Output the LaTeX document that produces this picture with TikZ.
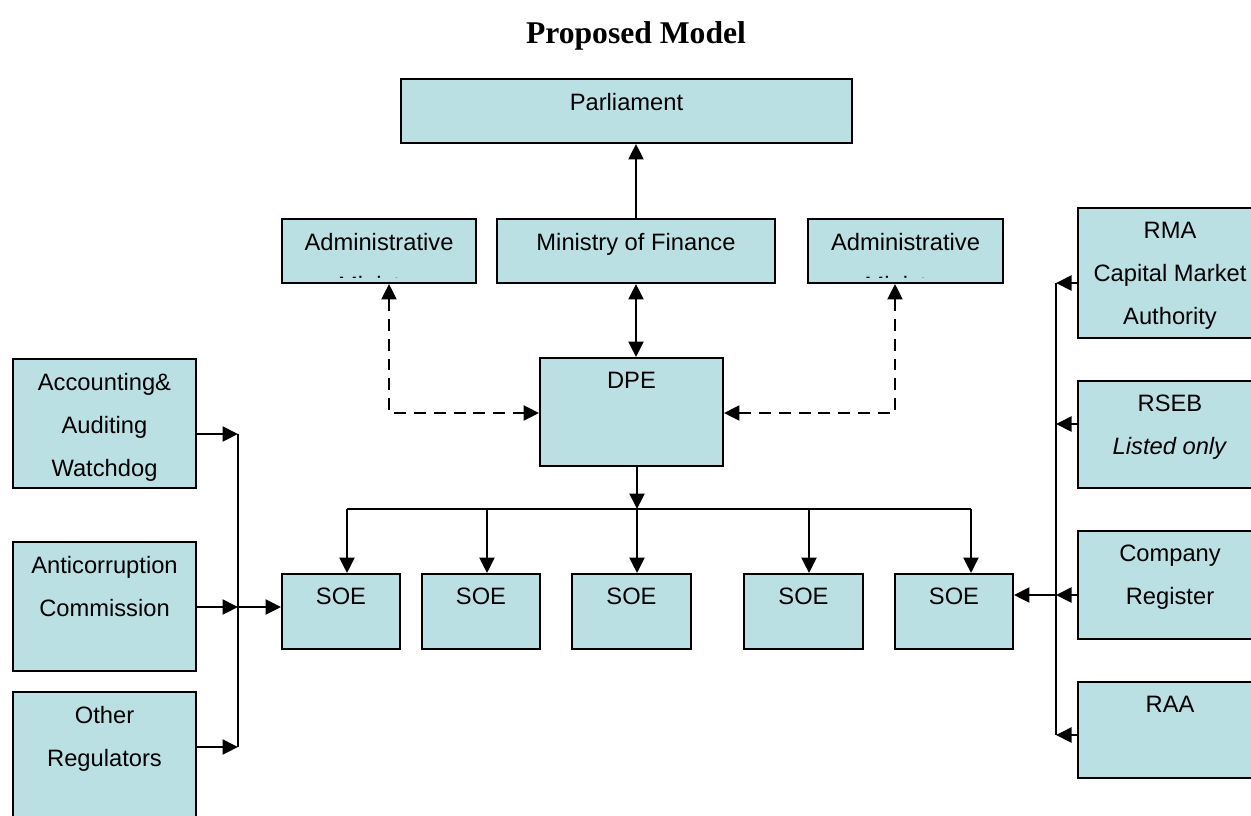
\documentclass[tikz,border=0pt]{standalone}
\usepackage{fontspec}
\setmainfont{Liberation Serif}
\setsansfont{Liberation Sans}
\usetikzlibrary{arrows.meta,positioning,fit}

\definecolor{boxfill}{RGB}{187,224,227}

\tikzset{
  box/.style={draw, line width=1.1pt, fill=boxfill, inner sep=0pt},
  lbl/.style={font=\sffamily\fontsize{13.5}{24.5}\selectfont, align=center, inner sep=0pt, anchor=north},
  arr/.style={line width=1.2pt},
  bus/.style={line width=0.8pt},
  dashline/.style={line width=1.2pt, dash pattern=on 6.8pt off 4.5pt},
  >={Triangle[length=0.31cm,width=0.3cm]}
}

\begin{document}
\begin{tikzpicture}[x=0.02cm, y=-0.02cm]
\useasboundingbox (0,0) rectangle (1251,815);

% Title
\node[font=\bfseries\fontsize{18}{22}\selectfont, anchor=base] (title) at (636,43) {Proposed Model};

% Boxes
\foreach \nm/\xa/\ya/\xb/\yb/\txt in {parl/401/79/852/143/Parliament,
    mof/497/219/775/283/Ministry of Finance,
    dpe/540/358/723/466/DPE,
    acc/13/359/196/488/{Accounting\&\\Auditing\\Watchdog},
    anti/13/542/196/671/{Anticorruption\\Commission},
    oth/13/692/196/830/{Other\\Regulators},
    rma/1078/208/1262/338/{RMA\\Capital Market\\Authority},
    rseb/1078/381/1262/488/{RSEB\\\textit{Listed only}},
    creg/1078/531/1262/639/{Company\\Register},
    raa/1078/682/1262/778/RAA,
    soe1/282/574/400/649/SOE,
    soe2/422/574/540/649/SOE,
    soe3/572/574/691/649/SOE,
    soe4/744/574/863/649/SOE,
    soe5/895/574/1013/649/SOE}
{
    \node[box, fit={(\xa,\ya) (\xb,\yb)}] (\nm) {};
    \node[lbl] (\nm-t) at ([yshift=-0.29cm]\nm.north) {\txt};
}

% Administrative boxes, second line cut off
\foreach \nm/\xa/\xb in {admL/282/476, admR/808/1003}
{
    \node[box, fit={(\xa,219) (\xb,283)}] (\nm) {};
    \begin{scope}
        \clip (\xa+1,220) rectangle (\xb-1,277.5);
        \node[lbl] (\nm-t) at ([yshift=-0.29cm]\nm.north) {Administrative\\Ministry};
    \end{scope}
}

% Ministry, Parliament and DPE
\draw[arr, ->] (mof.north) -- (mof.north |- parl.south);
\draw[arr, <->] (mof.south) -- (mof.south |- dpe.north);

\coordinate (dl) at (389,413);
\coordinate (dr) at (895,413);
\draw[dashline, <->] (admL.south -| dl) -- (dl) -- (dl -| dpe.west);
\draw[dashline, <->] (admR.south -| dr) -- (dr) -- (dr -| dpe.east);

% DPE to SOEs
\coordinate (sb) at (637,509);
\draw[arr, ->] (dpe.south -| sb) -- (sb);
\foreach \s/\x in {soe1/347, soe2/487, soe3/637, soe4/809, soe5/971}
{
    \coordinate (b\s) at (\x,509);
    \draw[arr, ->] (b\s) -- (b\s |- \s.north);
}
\draw[bus] (bsoe1) -- (bsoe5);

% Watchdogs on the left
\coordinate (lb1) at (238,434);
\coordinate (lb2) at (238,607);
\coordinate (lb3) at (238,747);
\draw[arr, ->] (acc.east |- lb1) -- (lb1);
\draw[arr, ->] (anti.east |- lb2) -- (lb2);
\draw[arr, ->] (oth.east |- lb3) -- (lb3);
\draw[bus] (lb1) -- (lb3);
\draw[arr, ->] (lb2) -- (lb2 -| soe1.west);

% Authorities on the right
\coordinate (rb1) at (1056,283);
\coordinate (rb2) at (1056,424);
\coordinate (rb3) at (1056,595);
\coordinate (rb4) at (1056,735);
\draw[arr, ->] (rma.west |- rb1) -- (rb1);
\draw[arr, ->] (rseb.west |- rb2) -- (rb2);
\draw[arr, ->] (creg.west |- rb3) -- (rb3);
\draw[arr, ->] (raa.west |- rb4) -- (rb4);
\draw[bus] (rb1) -- (rb4);
\draw[arr, ->] (rb3) -- (rb3 -| soe5.east);

\end{tikzpicture}
\end{document}
